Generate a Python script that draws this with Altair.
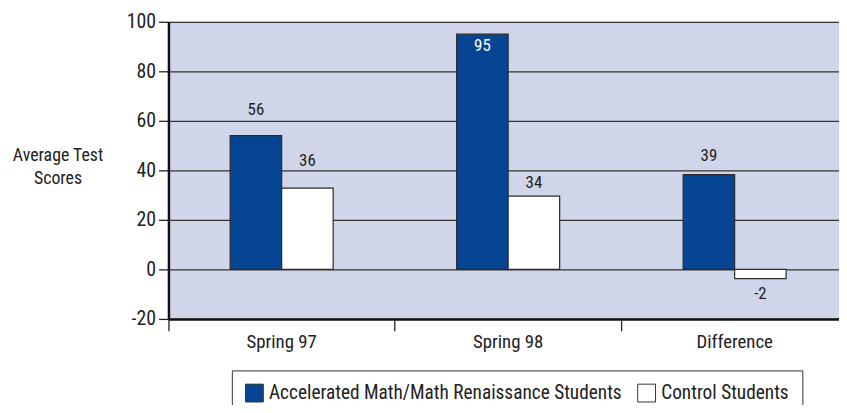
import altair as alt
import pandas as pd

FONT = "Liberation Sans Narrow, Roboto Condensed, DejaVu Sans Condensed, Arial Narrow, sans-serif"

categories = ["Spring 97", "Spring 98", "Difference"]
series = ["Accelerated Math/Math Renaissance Students", "Control Students"]
accel_values = [54.0, 95.0, 38.3]
control_values = [32.8, 29.6, -3.7]
accel_labels = ["56", "95", "39"]
control_labels = ["36", "34", "-2"]
accel_label_pos = [64.4, 90.0, 45.8]
control_label_pos = [43.6, 35.0, -10.0]
colors = ["#064594", "#ffffff"]

rows = []
for i, c in enumerate(categories):
    rows.append({"category": c, "series": series[0], "value": accel_values[i],
                 "label": accel_labels[i], "label_pos": accel_label_pos[i]})
    rows.append({"category": c, "series": series[1], "value": control_values[i],
                 "label": control_labels[i], "label_pos": control_label_pos[i]})
df = pd.DataFrame(rows)

x_scale = alt.Scale(paddingInner=0, paddingOuter=0, rangeMin=0, rangeMax=686)
xoff_scale = alt.Scale(range=[62.3, 166.3], paddingInner=0, paddingOuter=0)

x_enc = alt.X(
    "category:N",
    sort=categories,
    scale=x_scale,
    axis=alt.Axis(
        title=None, labelAngle=0, bandPosition=0,
        ticks=True, tickSize=12, tickWidth=1.3, tickColor="#222",
        domainColor="#111", domainWidth=2.5, labelFontSize=19, labelFont=FONT,
        labelPadding=2, labelColor="#222", grid=False,
    ),
)
xoff_enc = alt.XOffset("series:N", sort=series, scale=xoff_scale)

bars = alt.Chart(df).mark_bar(stroke="#2b2b2b", strokeWidth=1.2).encode(
    x=x_enc,
    xOffset=xoff_enc,
    y=alt.Y(
        "value:Q",
        scale=alt.Scale(domain=[-20, 100], nice=False),
        axis=alt.Axis(
            values=list(range(-20, 101, 20)), grid=True, gridColor="#333",
            gridWidth=1.3, gridOpacity=1, domainColor="#111", domainWidth=2.5,
            tickSize=10, tickWidth=1.3, tickColor="#222", labelFontSize=20,
            labelFont=FONT, labelPadding=3, labelColor="#222",
            labelExpr="'' + datum.value",
            title=["Average Test", "Scores"], titleAngle=0, titleAlign="center",
            titleBaseline="top", titleX=-112, titleY=126, titleFontSize=18,
            titleFont=FONT, titleFontWeight="normal", titleColor="#222",
            titleLineHeight=23,
        ),
    ),
    color=alt.Color(
        "series:N", sort=series,
        scale=alt.Scale(domain=series, range=colors),
        legend=alt.Legend(
            title=None, orient="none", legendX=64, legendY=352,
            direction="horizontal", columns=2, symbolType="square",
            symbolSize=324, symbolStrokeColor="#333", symbolStrokeWidth=1,
            labelFontSize=19.5, labelFont=FONT, labelColor="#222", labelOffset=5,
            columnPadding=13, padding=13, fillColor="white",
            strokeColor="#333", labelLimit=0,
        ),
    ),
)

labels = alt.Chart(df).mark_text(fontSize=17, font=FONT).encode(
    x=alt.X("category:N", sort=categories, scale=x_scale),
    xOffset=alt.XOffset("series:N", sort=series, scale=xoff_scale),
    y=alt.Y("label_pos:Q"),
    text="label:N",
    color=alt.condition("datum.value > 0 && datum.label_pos < datum.value",
                        alt.value("white"), alt.value("#222")),
)

chart = alt.layer(bars, labels).properties(
    width=677, height=300,
    autosize=alt.AutoSizeParams(type="none"),
    padding={"left": 162, "top": 12, "right": 0, "bottom": 85},
).configure_view(fill="#d0d5e9", stroke=None)

chart.save("out.html", embed_options={"renderer": "svg", "actions": False})
